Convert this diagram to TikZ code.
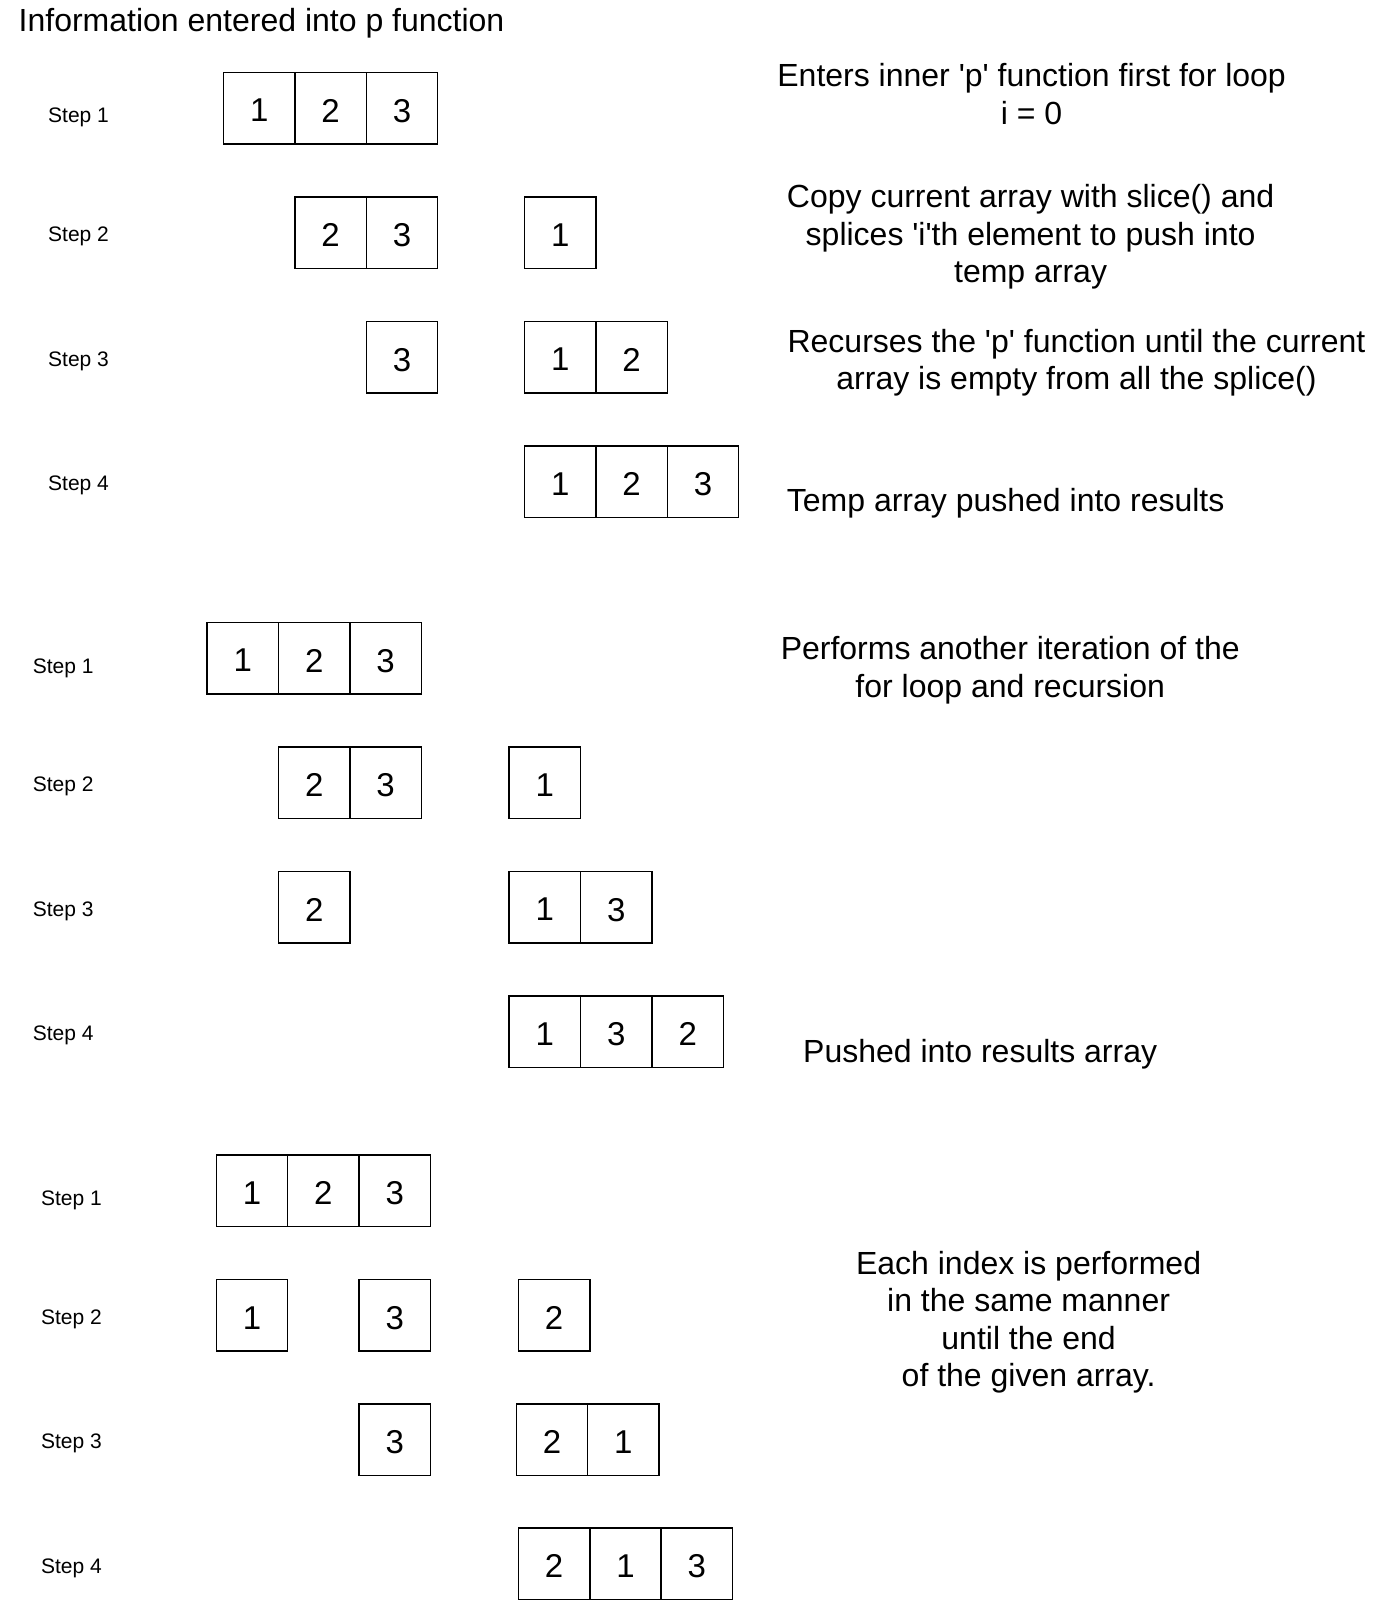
\documentclass[tikz,border=0pt]{standalone}
\usepackage{fontspec}
\setmainfont{Liberation Sans}
\newcommand\arrcells[4]{%
  \foreach \v [count=\i] in {#4} {%
    \node[cell] (#1-\i) at ({#2+(\i-0.5)*71.4},{#3+35.7}) {\raisebox{-2.5pt}[\height][0pt]{\v}};
  }%
}
\newcommand\sq{\textquotesingle}
\begin{document}
\begin{tikzpicture}[x=1pt,y=-1pt,
  cell/.style={draw,line width=1.5pt,minimum width=71.4pt,minimum height=71.4pt,inner sep=0pt,font=\fontsize{33}{38}\selectfont},
  steplabel/.style={anchor=base west,inner sep=0pt,font=\fontsize{21}{25}\selectfont},
  desc/.style={align=center,inner sep=0pt,font=\fontsize{32}{37.5}\selectfont},
  desctext/.style={anchor=west,inner sep=0pt,font=\fontsize{32}{37.5}\selectfont},
  titletext/.style={anchor=base west,inner sep=0pt,font=\fontsize{32}{37.5}\selectfont}]
\useasboundingbox (0,0) rectangle (1379,1600);

\node[titletext] (title) at (18.5,32) {Information entered into p function};

% ---------- Section 1 ----------
\node[steplabel] (a1) at (48,123) {Step 1};
\node[steplabel] (a2) at (48,241.7) {Step 2};
\node[steplabel] (a3) at (48,366) {Step 3};
\node[steplabel] (a4) at (48,490.3) {Step 4};
\arrcells{aA}{223.5}{72.4}{1,2,3}
\arrcells{aB}{294.9}{196.9}{2,3}
\arrcells{aBt}{524.5}{196.9}{1}
\arrcells{aC}{366.3}{321.4}{3}
\arrcells{aCt}{524.5}{321.4}{1,2}
\arrcells{aDt}{524.5}{445.9}{1,2,3}

\node[desc] (d1) at (1031.6,94.3) {Enters inner \sq p\sq{} function first for loop\\ i = 0};
\node[desc] (d2) at (1030.6,237.2) {Copy current array with slice() and\\ splices \sq i\sq th element to push into\\ temp array};
\node[desc] (d3) at (1076.5,362.7) {Recurses the \sq p\sq{} function until the current\\ array is empty from all the splice()};
\node[desctext] (d4) at (786.7,503) {Temp array pushed into results};

% ---------- Section 2 ----------
\node[steplabel] (b1) at (32.7,673) {Step 1};
\node[steplabel] (b2) at (32.7,791.7) {Step 2};
\node[steplabel] (b3) at (32.7,916) {Step 3};
\node[steplabel] (b4) at (32.7,1040.3) {Step 4};
\arrcells{bA}{207.1}{622.4}{1,2,3}
\arrcells{bB}{278.5}{746.9}{2,3}
\arrcells{bBt}{509.2}{746.9}{1}
\arrcells{bC}{278.5}{871.4}{2}
\arrcells{bCt}{509.2}{871.4}{1,3}
\arrcells{bDt}{509.2}{995.9}{1,3,2}

\node[desc] (e1) at (1010.2,670) {Performs another iteration of the\\ for loop and recursion};
\node[desctext] (e2) at (803,1054) {Pushed into results array};

% ---------- Section 3 ----------
\node[steplabel] (c1) at (40.8,1205.7) {Step 1};
\node[steplabel] (c2) at (40.8,1324.4) {Step 2};
\node[steplabel] (c3) at (40.8,1448.7) {Step 3};
\node[steplabel] (c4) at (40.8,1573) {Step 4};
\arrcells{cA}{216.3}{1155.1}{1,2,3}
\arrcells{cB}{216.3}{1279.6}{1}
\arrcells{cBm}{359.1}{1279.6}{3}
\arrcells{cBt}{518.4}{1279.6}{2}
\arrcells{cC}{359.1}{1404.1}{3}
\arrcells{cCt}{516.3}{1404.1}{2,1}
\arrcells{cDt}{518.4}{1528.1}{2,1,3}

\node[desc] (f1) at (1028.6,1322) {Each index is performed\\ in the same manner\\ until the end\\ of the given array.};
\end{tikzpicture}
\end{document}
